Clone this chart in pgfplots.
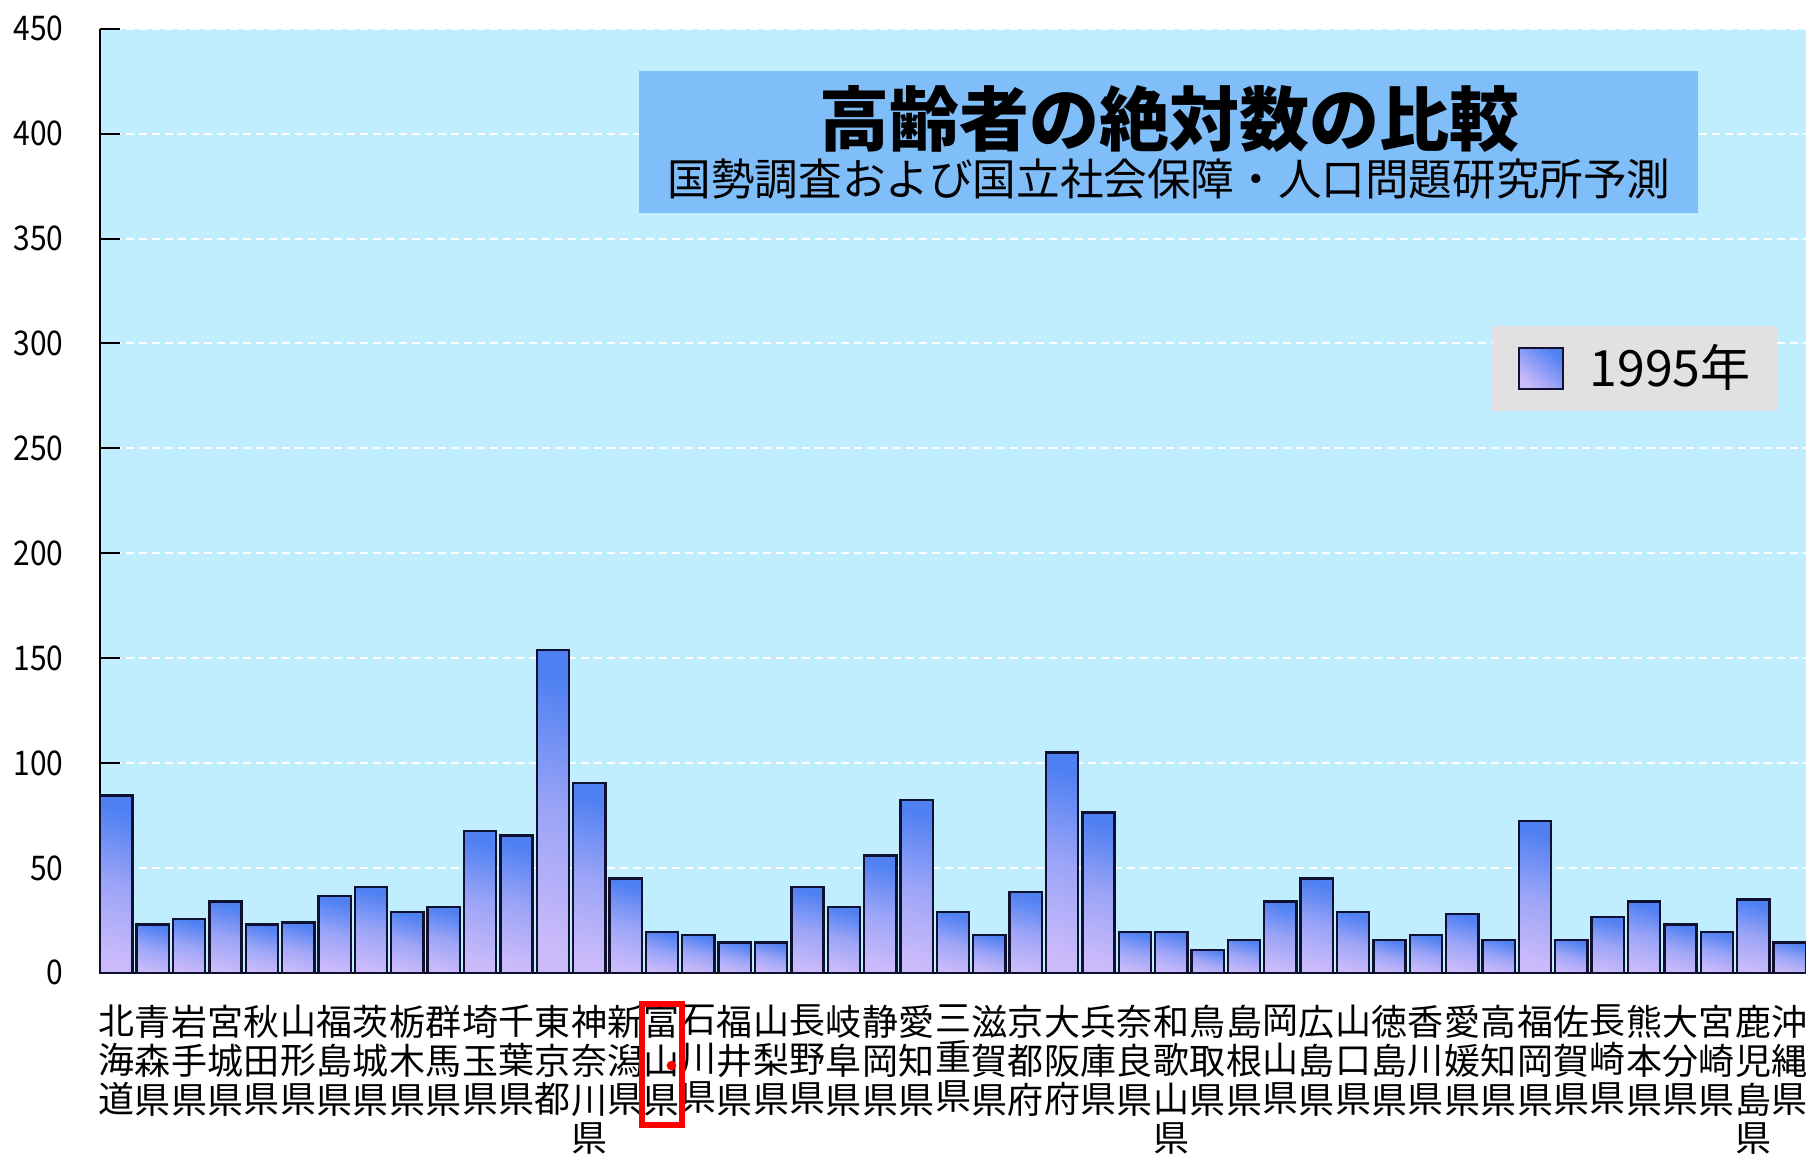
\documentclass[border=0pt]{standalone}
\usepackage{pgfplots}
\pgfplotsset{compat=1.18}
\usepackage{fontspec}
\setmainfont{Noto Sans CJK JP}
\newfontfamily\tickfont[FakeStretch=0.88]{Noto Sans CJK JP}

\definecolor{plotbg}{RGB}{192,238,255}
\definecolor{titlebox}{RGB}{128,190,250}
\definecolor{legendbox}{RGB}{226,224,224}
\definecolor{bartop}{RGB}{78,128,242}
\definecolor{barbottom}{RGB}{202,186,250}
\definecolor{baredge}{RGB}{16,16,48}

% elderly population by prefecture, 1995 (ten thousands)
\pgfplotstableread{
idx val
0 84.5
1 23
2 25.5
3 34
4 23
5 24
6 36.5
7 41
8 29
9 31.5
10 67.5
11 65.5
12 154
13 90.5
14 45
15 19.5
16 18
17 14.5
18 14.5
19 41
20 31.5
21 56
22 82.5
23 29
24 18
25 38.5
26 105
27 76.5
28 19.5
29 19.5
30 11
31 15.5
32 34
33 45
34 29
35 15.5
36 18
37 28
38 15.5
39 72.5
40 15.5
41 26.5
42 34
43 23
44 19.5
45 35
46 14.5
}\elderly

\begin{document}
\begin{tikzpicture}
\fill[white] (-50pt,-90.6pt) rectangle (853pt,486.4pt);
\begin{axis}[
  at={(0,0)}, anchor=south west,
  scale only axis, width=853pt, height=472pt,
  xmin=-0.45, xmax=46.45, ymin=0, ymax=450,
  clip=false,
  axis x line=bottom, axis y line=left,
  axis line style={-, black, line width=1pt},
  axis background/.style={fill=plotbg},
  ytick={0,50,...,450},
  tick align=inside, major tick length=10pt,
  ytick style={black, line width=1pt},
  xtick style={draw=none},
  /pgf/number format/assume math mode=true,
  yticklabel style={font=\tickfont\fontsize{17}{17}\selectfont, inner sep=0pt, xshift=-18pt},
  ymajorgrids=true,
  major grid style={white, line width=1pt, dash pattern=on 4pt off 2.5pt},
  xtick={0,...,46},
  xticklabels={{北\\海\\道},{青\\森\\県},{岩\\手\\県},{宮\\城\\県},{秋\\田\\県},{山\\形\\県},{福\\島\\県},{茨\\城\\県},{栃\\木\\県},{群\\馬\\県},{埼\\玉\\県},{千\\葉\\県},{東\\京\\都},{神\\奈\\川\\県},{新\\潟\\県},{富\\山\\県},{石\\川\\県},{福\\井\\県},{山\\梨\\県},{長\\野\\県},{岐\\阜\\県},{静\\岡\\県},{愛\\知\\県},{三\\重\\県},{滋\\賀\\県},{京\\都\\府},{大\\阪\\府},{兵\\庫\\県},{奈\\良\\県},{和\\歌\\山\\県},{鳥\\取\\県},{島\\根\\県},{岡\\山\\県},{広\\島\\県},{山\\口\\県},{徳\\島\\県},{香\\川\\県},{愛\\媛\\県},{高\\知\\県},{福\\岡\\県},{佐\\賀\\県},{長\\崎\\県},{熊\\本\\県},{大\\分\\県},{宮\\崎\\県},{鹿\\児\\島\\県},{沖\\縄\\県}},
  xticklabel style={anchor=north, align=center, inner sep=0pt, yshift=-16pt,
    font=\fontsize{18}{19.4}\selectfont},
  legend style={at={(0.816,0.686)}, anchor=north west, fill=legendbox, draw=none,
    inner xsep=13pt, inner ysep=10.5pt, font=\fontsize{25}{25}\selectfont,
    nodes={inner sep=0pt, text height=18pt, text depth=0pt}},
  legend image code/.code={
    \draw[baredge, line width=1pt, top color=bartop, bottom color=barbottom, shading angle=-40]
      (0pt,-10.25pt) rectangle (22pt,10.25pt);
    \path (34.5pt,0pt);
  },
  every axis plot/.append style={ybar, bar width=0.886, draw=baredge, line width=1.2pt,
    top color=bartop, bottom color=barbottom, middle color=barbottom!62!bartop,
    shading angle=-15, forget plot},
]
% one plot per prefecture so that every bar carries its own shading
\pgfplotsinvokeforeach{0,...,46}{
  \addplot[x filter/.expression={abs(x-#1)<0.1 ? x : nan}] table[x=idx, y=val] {\elderly};
}
\addlegendimage{}
\addlegendentry{1995年}
% highlight around the Toyama label
\draw[red, line width=2.8pt] ([xshift=-10pt,yshift=-15.6pt]axis cs:15,0) rectangle ([xshift=10pt,yshift=-76.1pt]axis cs:15,0);
\fill[red] ([xshift=4.7pt,yshift=-46.4pt]axis cs:15,0) circle (2.4pt);
\end{axis}
% title panel
\fill[titlebox] (269.5pt,379.9pt) rectangle (799pt,450.9pt);
\node[font=\bfseries\fontsize{35}{35}\selectfont] at (534.5pt,427pt) {高齢者の絶対数の比較};
\node[font=\fontsize{21.8}{21.8}\selectfont] at (534.5pt,397pt) {国勢調査および国立社会保障・人口問題研究所予測};
\pgfresetboundingbox
\useasboundingbox (-50pt,-90.6pt) rectangle (853pt,486.4pt);
\end{tikzpicture}
\end{document}
